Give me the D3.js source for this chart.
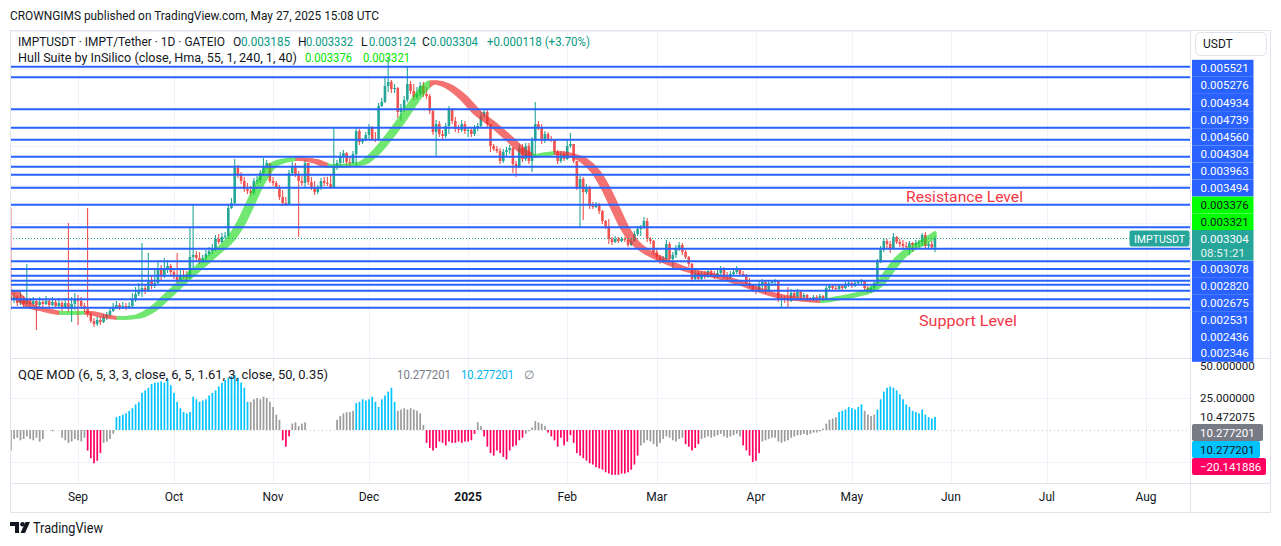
<!DOCTYPE html>
<html><head><meta charset="utf-8">
<script src="https://cdn.jsdelivr.net/npm/d3@7"></script>
<style>
html,body{margin:0;padding:0;background:#fff;}
svg{display:block;font-family:Roboto,"Noto Sans",sans-serif;}
</style></head><body>
<svg id="c" width="1281" height="546"></svg>
<script>
// ---------------- DATA (prices in units of 1e-6 USDT) ----------------
const UNIT = 1e-6;
const startDay = Date.UTC(2024, 7, 11);          // first visible daily candle
const firstOpenE6 = 2554;
const closeE6 = [2502,2541,2463,2515,2450,2502,2450,2489,2437,2476,
2450,2489,2437,2476,2424,2463,2398,2463,2385,2450,
2515,2489,2424,2385,2320,2229,2190,2242,2216,2281,
2307,2359,2411,2437,2398,2424,2398,2424,2502,2580,
2632,2658,2619,2749,2684,2723,2918,2814,2918,2944,
2866,2801,2749,2827,2801,2788,3061,3087,3048,3009,
3048,3100,3139,3178,3295,3256,3321,3334,3698,3763,
4218,4127,4049,3945,3919,3893,4049,4062,4153,4244,
4283,4049,4023,3971,3841,3763,3750,4153,4244,4140,
4049,4023,4283,4036,3971,3906,3958,4049,4023,4010,
3971,4231,4283,4374,4413,4296,4283,4400,4699,4556,
4582,4647,4751,4595,4582,5024,5076,5284,5336,5245,
5258,4946,4998,5102,5310,5219,5141,5180,5284,5180,
5154,4959,4686,4790,4660,4634,4764,4985,4829,4725,
4712,4790,4699,4712,4660,4738,4764,4894,4946,4790,
4504,4465,4439,4309,4426,4452,4478,4270,4244,4478,
4335,4504,4309,4569,4790,4751,4569,4660,4595,4582,
4426,4309,4400,4335,4504,4530,4309,3971,4075,3906,
3971,3724,3711,3737,3659,3529,3464,3295,3256,3295,
3269,3295,3282,3217,3269,3360,3425,3438,3529,3295,
3269,3126,3061,3009,3035,3230,3035,3087,3178,3217,
3126,3061,2970,2775,2853,2775,2840,2801,2879,2827,
2801,2853,2918,2801,2788,2840,2866,2905,2840,2827,
2723,2697,2632,2619,2710,2736,2619,2723,2736,2749,
2515,2528,2502,2489,2593,2541,2606,2541,2567,2515,
2502,2541,2515,2554,2515,2658,2684,2658,2645,2684,
2658,2710,2723,2684,2723,2736,2749,2658,2619,2658,
2723,2996,3152,3269,3230,3178,3321,3256,3230,3204,
3191,3243,3217,3243,3256,3347,3204,3230,3185,3304];
const highE6 = [3698,2606,2567,2619,2554,2970,2528,2541,2515,2541,
2502,2554,2515,2541,2502,2528,2489,2528,3503,2541,
2593,2567,2541,2463,3698,2346,2268,2294,2281,2320,
2346,2398,2463,2489,2463,2476,2463,2476,2593,2671,
2723,3243,2697,3113,2827,2918,3022,2957,3048,3022,
2970,2918,3113,2892,2892,2879,3438,3737,3139,3126,
3087,3152,3191,3230,3347,3360,3373,3386,3750,3828,
4335,4257,4166,4101,4023,3984,4088,4114,4192,4348,
4322,4257,4101,4049,3997,3932,3841,4192,4296,4283,
4179,4114,4322,4283,4101,4049,3997,4088,4101,4101,
4140,4738,4322,4426,4452,4426,4361,4439,4751,4725,
4608,4686,4790,4764,4686,5063,5128,5414,5648,5362,
5310,5271,5050,5154,5531,5349,5310,5271,5336,5336,
5271,5180,4972,4842,4829,4712,4803,5024,4998,4881,
4777,4842,4829,4751,4738,4777,4803,4946,4985,4972,
4790,4530,4504,4478,4465,4491,4517,4491,4309,4530,
4530,4543,4543,4621,5076,4829,4790,4699,4686,4634,
4595,4452,4439,4439,4582,4673,4530,4309,4114,4101,
4010,3984,3776,3776,3763,3672,3542,3555,3321,3334,
3321,3321,3321,3308,3308,3399,3464,3477,3581,3568,
3321,3282,3165,3087,3074,3282,3256,3126,3217,3256,
3243,3152,3074,2983,2892,2879,2879,2879,2918,2892,
2879,2892,2944,2931,2866,2879,2892,2944,2918,2879,
2840,2788,2710,2684,2749,2775,2762,2762,2762,2775,
2762,2567,2554,2671,2645,2619,2645,2619,2593,2580,
2541,2567,2567,2580,2567,2684,2710,2710,2697,2697,
2697,2736,2749,2736,2749,2762,2775,2762,2684,2684,
2749,3035,3204,3308,3295,3269,3373,3334,3295,3282,
3256,3269,3256,3282,3282,3373,3386,3256,3269,3332];
const lowE6 = [2372,2463,2424,2437,2398,2424,2411,2424,2112,2411,
2411,2437,2398,2424,2398,2411,2359,2385,2346,2216,
2372,2177,2385,2346,2281,2203,2151,2164,2177,2203,
2242,2281,2346,2385,2372,2385,2372,2385,2398,2476,
2554,2541,2580,2606,2645,2658,2697,2762,2788,2853,
2827,2775,2723,2736,2775,2762,2775,2892,3009,2970,
2983,3009,3074,3100,3139,3230,3243,3295,3308,3685,
3750,4088,4010,3906,3880,3854,3867,4010,4023,4114,
4205,4023,3984,3945,3802,3724,3724,3737,4114,4101,
3321,3984,3958,3997,3932,3867,3880,3932,3984,3984,
3945,3958,4192,4244,4283,4257,4244,4270,4244,4517,
4530,4569,4595,4569,4556,4569,5011,5063,5206,5193,
5193,4868,4829,4946,5076,5180,5102,5115,5154,5141,
5115,4920,4647,4361,4621,4595,4608,4660,4790,4686,
4673,4686,4660,4621,4621,4634,4699,4738,4868,4751,
4426,4439,4413,4270,4283,4374,4400,4153,4101,4218,
4296,4309,4270,4166,4348,4712,4530,4543,4569,4556,
4387,4270,4283,4309,4322,4478,4283,3932,3451,3542,
3880,3685,3685,3698,3620,3490,3425,3230,3217,3243,
3243,3256,3256,3191,3204,3256,3334,3334,3425,3256,
3230,3087,3022,2970,2983,3009,2996,2918,3048,3139,
3087,3035,2931,2736,2749,2736,2749,2775,2788,2801,
2775,2788,2827,2775,2762,2775,2814,2840,2814,2801,
2697,2658,2606,2580,2606,2619,2580,2606,2684,2684,
2476,2411,2463,2411,2476,2502,2528,2515,2515,2489,
2476,2489,2489,2502,2489,2502,2632,2632,2619,2632,
2632,2645,2671,2658,2671,2697,2710,2632,2593,2593,
2632,2697,2983,3126,3178,3113,3165,3230,3191,3178,
3165,3087,3126,3178,3191,3204,3178,3178,3165,3124];

// horizontal support / resistance lines drawn on the chart
const levelE6 = [5535,5397,4981,4742,4586,4365,4235,4131,3962,3741,3447,
                 3169,3005,2905,2818,2753,2701,2623,2511,2402];

// Hull Suite (HMA 55) read at selected bars
const hullBar = [0,5,10,15,20,23,28,33,38,43,48,53,58,63,68,71,74,77,80,84,89,94,99,104,109,113,117,121,125,129,131,135,140,145,150,155,160,163,167,170,174,178,182,185,188,191,194,198,203,208,213,218,223,228,233,238,243,248,253,258,263,268,271,274,277,280,284,289];
const hullE6 = [2606,2424,2372,2333,2336,2338,2294,2268,2281,2372,2554,2749,2931,3113,3308,3503,3763,4023,4218,4309,4335,4309,4244,4250,4283,4413,4608,4829,5076,5284,5336,5297,5154,4933,4777,4595,4413,4374,4400,4413,4387,4322,4166,3958,3698,3438,3256,3126,3022,2931,2866,2827,2775,2710,2632,2567,2528,2502,2489,2528,2567,2632,2723,2892,3048,3152,3243,3376];

// QQE MOD histogram (one per day) and colour runs (g=grey, b=blue, p=pink)
const qqe = [-16,-7,-6,-8,-7,-5,-7,-8,-6,-9,-7,
0,0,-1,0,0,
-6,-8,-10,-9,-7,-8,-9,-6,
-16,-22,-26,-24,-18,
-10,-9,-7,-3,
10,11,12,13,15,17,20,22,29,31,33,36,37,37,38,37,40,35,29,22,17,14,13,14,26,24,22,23,24,27,29,31,34,37,39,41,42,43,41,37,33,22,
22,24,25,24,26,25,22,18,12,8,
-8,-13,-5,
5,6,3,5,6,
0,0,0,0,0,0,0,0,0,
8,11,13,14,14,15,
21,22,24,23,24,26,22,18,24,27,30,33,22,
15,16,17,16,17,16,15,13,4,
-10,-14,-16,-14,-9,-10,-12,-9,-10,-10,-9,-10,-9,-9,-8,-3,
6,3,
-5,-13,-18,-20,-16,-18,-21,-23,-16,-13,-12,-8,-6,
-3,-1,2,7,6,5,3,
-2,-5,-8,-13,-6,-12,-9,-4,-10,
-18,-20,-22,-24,-26,-27,-29,-30,-31,-33,-34,-35,-35,-35,-34,-34,-33,-31,-27,-20,
-12,-10,-8,-9,-11,-13,-10,-7,-5,-6,-8,-9,-7,-6,
-11,-13,-16,-14,-11,
-7,-6,-5,-6,-5,-4,-3,-5,-6,-5,-4,-3,-5,
-12,-16,-20,-25,-24,-18,
-9,-8,-7,-6,-6,-9,-10,-9,-8,-6,-5,-4,-4,-3,-4,-3,-2,-2,-1,1,5,8,9,10,
14,15,16,18,17,16,18,20,
15,12,11,12,
16,24,30,33,34,33,31,28,24,20,18,15,14,13,16,12,10,9,10.277201];
const qqeColorRuns = [["g",24],["p",5],["g",4],["b",42],["g",10],["p",3],["g",20],["b",13],["g",9],["p",16],["g",2],["p",13],["g",7],["p",29],["g",14],["p",5],["g",13],["p",6],["g",24],["b",8],["g",4],["b",19]];

// texts / tags
const headerText = "CROWNGIMS published on TradingView.com, May 27, 2025 15:08 UTC";
const symbolText = "IMPTUSDT · IMPT/Tether · 1D · GATEIO";
const ohlcLabels = ["O","H","L","C"];
const ohlcValues = ["0.003185","0.003332","0.003124","0.003304"];
const changeText = "+0.000118 (+3.70%)";
const hullText = "Hull Suite by InSilico (close, Hma, 55, 1, 240, 1, 40)";
const hullValues = ["0.003376","0.003321"];
const qqeText = "QQE MOD (6, 5, 3, 3, close, 6, 5, 1.61, 3, close, 50, 0.35)";
const qqeValues = ["10.277201","10.277201","∅"];
const tagsTop = ["0.005521","0.005276","0.004934","0.004739","0.004560","0.004304","0.003963","0.003494"];
const tagsHull = ["0.003376","0.003321"];
const lastPrice = "0.003304", countdown = "08:51:21";
const tagsBottom = ["0.003078","0.002820","0.002675","0.002531","0.002436","0.002346"];
const qqeTicks = [50, 25, 10.472075];
const qqeTags = [["10.277201","#787b86","#fff"],["10.277201","#00c3ff","#131722"],["−20.141886","#ff0062","#fff"]];

// ---------------- CHART ----------------
const svg = d3.select("#c");
const L = 10, R = 1190, AXR = 1270, PT = 30, PB = 358, QB = 483, TB = 512;
const DAY = 864e5;
const dates = closeE6.map((_, i) => new Date(startDay + i * DAY));
const x = d3.scaleUtc().domain([new Date(Date.UTC(2024,8,1)), new Date(Date.UTC(2025,7,1))]).range([78, 1146]);
const y = d3.scaleLinear().domain([1761, 6012]).range([357, 30]);
const yq = d3.scaleLinear().domain([-40.6, 54.7]).range([482, 360]);
const bw = x(dates[1]) - x(dates[0]);

const defs = svg.append("defs");
defs.append("clipPath").attr("id","pclip").append("rect").attr("x",L).attr("y",PT).attr("width",R-L).attr("height",PB-PT);
defs.append("clipPath").attr("id","qclip").append("rect").attr("x",L).attr("y",PB+1).attr("width",R-L).attr("height",QB-PB-1);

function txt(sel, xx, yy, s, fill, len, size){
  const t = sel.append("text").attr("x",xx).attr("y",yy).attr("font-size",size||12).attr("fill",fill||"#131722").text(s);
  if (len) t.attr("textLength",len).attr("lengthAdjust","spacingAndGlyphs");
  return t;
}

// header
txt(svg, 10, 20, headerText, "#131722", 369);

// grid
const months = d3.utcMonth.range(new Date(Date.UTC(2024,7,1)), new Date(Date.UTC(2025,8,2))).filter(d => x(d) > L && x(d) < R);
svg.append("g").selectAll("line").data(months).join("line")
  .attr("x1",d=>Math.round(x(d))+0.5).attr("x2",d=>Math.round(x(d))+0.5).attr("y1",PT).attr("y2",QB)
  .attr("stroke","#f0f3fa").attr("stroke-width",1);
svg.append("g").selectAll("line").data(d3.range(2500,6001,500)).join("line")
  .attr("x1",L).attr("x2",R).attr("y1",d=>Math.round(y(d))+0.5).attr("y2",d=>Math.round(y(d))+0.5)
  .attr("stroke","#f0f3fa");
svg.append("g").selectAll("line").data([25,-25]).join("line")
  .attr("x1",L).attr("x2",R).attr("y1",d=>Math.round(yq(d))+0.5).attr("y2",d=>Math.round(yq(d))+0.5)
  .attr("stroke","#f0f3fa");
svg.append("line").attr("x1",L).attr("x2",R).attr("y1",Math.round(yq(0))+0.5).attr("y2",Math.round(yq(0))+0.5)
  .attr("stroke","#c8cad0").attr("stroke-dasharray","1,3");

// candles
const candles = dates.map((d,i) => {
  const o = i === 0 ? firstOpenE6 : closeE6[i-1], c = closeE6[i];
  return {d, o, c, h: Math.max(highE6[i], o, c), l: Math.min(lowE6[i], o, c)};
});
const gp = svg.append("g").attr("clip-path","url(#pclip)");
const cg = gp.append("g");
cg.selectAll("line").data(candles).join("line")
  .attr("x1",d=>x(d.d)).attr("x2",d=>x(d.d))
  .attr("y1",d=>y(d.h)).attr("y2",d=>y(d.l))
  .attr("stroke",d=>d.c>=d.o?"#26a69a":"#ef5350").attr("stroke-width",1.1);
cg.selectAll("rect").data(candles).join("rect")
  .attr("x",d=>x(d.d)-1.3).attr("width",2.6)
  .attr("y",d=>Math.min(y(d.o),y(d.c))).attr("height",d=>Math.max(1,Math.abs(y(d.o)-y(d.c))))
  .attr("fill",d=>d.c>=d.o?"#26a69a":"#ef5350");

// hull band
const hullPts = hullBar.map((b,k)=>[x(dates[b]), y(hullE6[k])]);
const lastX = hullPts[hullPts.length-1][0];
const ranges = {up:[], dn:[]};
for (let k=0;k<hullPts.length-1;k++){
  const t = hullE6[k+1] >= hullE6[k] ? "up" : "dn";
  let x0 = k===0 ? L : hullPts[k][0], x1 = k===hullPts.length-2 ? lastX+1.5 : hullPts[k+1][0];
  ranges[t].push([x0,x1]);
}
const hullLine = d3.line().curve(d3.curveMonotoneX);
[["up","#19d919",0.62],["dn","#ee2f2f",0.68]].forEach(([t,col,op])=>{
  const cp = defs.append("clipPath").attr("id","h"+t);
  ranges[t].forEach(r=>cp.append("rect").attr("x",r[0]).attr("y",PT).attr("width",r[1]-r[0]+0.3).attr("height",PB-PT));
  const g = gp.append("g").attr("clip-path",`url(#h${t})`).attr("opacity",op);
  [0,1,2].forEach(s=>{
    g.append("path").attr("d",hullLine(hullPts.map(p=>[p[0]+s*bw,p[1]])))
     .attr("fill","none").attr("stroke",col).attr("stroke-width",3.4).attr("stroke-linecap","round");
  });
});

// levels
gp.append("g").selectAll("line").data(levelE6).join("line")
  .attr("x1",L).attr("x2",R).attr("y1",d=>y(d)).attr("y2",d=>y(d))
  .attr("stroke","#2962ff").attr("stroke-width",2);
// last price dotted line
gp.append("line").attr("x1",L).attr("x2",R).attr("y1",Math.round(y(3304))+0.5).attr("y2",Math.round(y(3304))+0.5)
  .attr("stroke","#26a69a").attr("stroke-dasharray","1,2");

// annotations
txt(svg, 906, 202, "Resistance Level", "#f23645", 117, 15);
txt(svg, 919, 326, "Support Level", "#f23645", 98, 15);

// symbol tag on chart
svg.append("rect").attr("x",1129.5).attr("y",230.5).attr("width",60).attr("height",16).attr("rx",2).attr("fill","#26a69a");
txt(svg, 1134, 242.5, "IMPTUSDT", "#fff", 51, 11.5);

// legends
txt(svg, 18, 46, symbolText, "#131722", 207);
const ohlcX = [233,298,361,422], ohlcW = [49,47,47,48];
ohlcLabels.forEach((l,i)=>{
  txt(svg, ohlcX[i], 46, l, "#131722");
  txt(svg, ohlcX[i]+8, 46, ohlcValues[i], "#089981", ohlcW[i]);
});
txt(svg, 487, 46, changeText, "#089981", 103);
txt(svg, 18, 62, hullText, "#131722", 279);
txt(svg, 305, 62, hullValues[0], "#00e600", 47);
txt(svg, 363, 62, hullValues[1], "#00e600", 47);

// QQE histogram
const qcol = [];
qqeColorRuns.forEach(([c,n])=>{ for(let k=0;k<n;k++) qcol.push(c); });
const colMap = {g:"#9b9b9b", b:"#00c3ff", p:"#ff0062"};
svg.append("g").attr("clip-path","url(#qclip)").selectAll("rect").data(qqe).join("rect")
  .attr("x",(v,i)=>x(dates[i])-0.8).attr("width",1.7)
  .attr("y",v=>Math.min(yq(v),yq(0))).attr("height",v=>Math.abs(yq(v)-yq(0)))
  .attr("fill",(v,i)=>colMap[qcol[i]]);
txt(svg, 18, 379, qqeText, "#131722", 310);
txt(svg, 397, 379, qqeValues[0], "#787b86", 54);
txt(svg, 461, 379, qqeValues[1], "#00b4ec", 53);
txt(svg, 524, 379, qqeValues[2], "#787b86");

// frame & separators
svg.append("rect").attr("x",L+0.5).attr("y",PT+0.5).attr("width",AXR-L).attr("height",TB-PT).attr("fill","none").attr("stroke","#e0e3eb");
svg.append("line").attr("x1",L).attr("x2",AXR).attr("y1",PB+0.5).attr("y2",PB+0.5).attr("stroke","#e0e3eb");
svg.append("line").attr("x1",L).attr("x2",AXR).attr("y1",QB+0.5).attr("y2",QB+0.5).attr("stroke","#e0e3eb");
svg.append("line").attr("x1",R+0.5).attr("x2",R+0.5).attr("y1",PT).attr("y2",TB).attr("stroke","#e0e3eb");

// time axis
svg.append("g").selectAll("text").data(months).join("text")
  .attr("x",d=>x(d)).attr("y",501).attr("text-anchor","middle").attr("font-size",12)
  .attr("font-weight",d=>d.getUTCMonth()===0?"bold":"normal").attr("fill","#131722")
  .text(d=>d.getUTCMonth()===0?d3.utcFormat("%Y")(d):d3.utcFormat("%b")(d));

// QQE axis text
svg.append("g").selectAll("text").data(qqeTicks).join("text")
  .attr("x",1200).attr("y",d=>yq(d)+4).attr("font-size",11.5).attr("fill","#131722")
  .text(d=>d.toFixed(6));
qqeTags.forEach(([t,bg,fg],k)=>{
  const yc = 432.5 + k*17;
  svg.append("rect").attr("x",1192).attr("y",yc-8.5).attr("width",k===2?74:k===1?68:71).attr("height",17).attr("rx",2).attr("fill",bg);
  svg.append("text").attr("x",1200).attr("y",yc+4).attr("font-size",11.5).attr("fill",fg).text(t);
});

// price axis tags
function tag(yc, t, bg, fg){
  svg.append("rect").attr("x",1192).attr("y",yc-8.5).attr("width",61.5).attr("height",17).attr("fill",bg);
  svg.append("text").attr("x",1200.5).attr("y",yc+4).attr("font-size",11.5).attr("fill",fg).text(t);
}
tagsTop.forEach((t,k)=>tag(68.3+17.1*k, t, "#2962ff", "#fff"));
tagsHull.forEach((t,k)=>tag(68.3+17.1*(8+k), t, "#00ff00", "#131722"));
svg.append("rect").attr("x",1192).attr("y",230).attr("width",61.5).attr("height",30.5).attr("fill","#26a69a");
svg.append("text").attr("x",1200.5).attr("y",243).attr("font-size",11.5).attr("fill","#fff").text(lastPrice);
svg.append("text").attr("x",1200.5).attr("y",257).attr("font-size",11.5).attr("fill","#e6f4f2").text(countdown);
tagsBottom.forEach((t,k)=>tag(269.3+16.8*k, t, "#2962ff", "#fff"));

// currency box
svg.append("rect").attr("x",1195.5).attr("y",32.5).attr("width",71).attr("height",23).attr("rx",5).attr("fill","#fff").attr("stroke","#e0e3eb");
txt(svg, 1203, 48, "USDT", "#131722");

// footer logo
const lg = svg.append("g").attr("fill","#131722");
lg.append("path").attr("d","M10,522 h9 v11 h-4 v-7 h-5 z");
lg.append("circle").attr("cx",22.5).attr("cy",524.3).attr("r",2.3);
lg.append("path").attr("d","M25.5,522 h4.5 l-5,11 h-4.5 z");
txt(svg, 33, 533, "TradingView", "#131722", 70, 14);
</script>
</body></html>
